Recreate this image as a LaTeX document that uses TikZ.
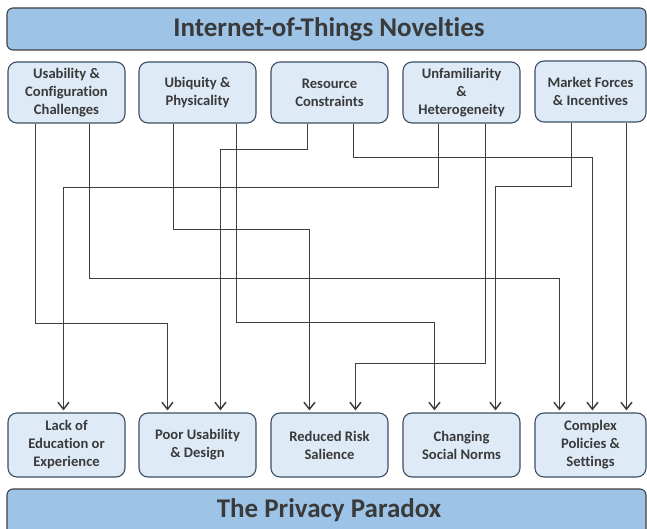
\documentclass[tikz,border=0pt]{standalone}
\usepackage{fontspec}
\setmainfont{Carlito}[Ligatures={NoCommon,NoContextual},RawFeature={-liga;-clig;-dlig;-calt}]
\usetikzlibrary{arrows.meta}
\definecolor{boxfill}{HTML}{DEEBF7}
\definecolor{boxline}{HTML}{3E4F66}
\definecolor{banfill}{HTML}{9DC3E6}
\definecolor{banline}{HTML}{3F3F3F}
\definecolor{txt}{HTML}{3A3A3A}
\definecolor{wire}{HTML}{3F3F3F}
\tikzset{
  box/.style={draw=boxline, fill=boxfill, line width=1.1pt, rounded corners=9pt,
    minimum width=117pt, minimum height=61pt, inner sep=0pt, align=center,
    text=txt, font=\bfseries\fontsize{14.6}{18}\selectfont},
  banner/.style={draw=banline, fill=banfill, line width=1.1pt, rounded corners=6pt,
    inner sep=0pt},
  bantext/.style={text=txt, font=\bfseries\fontsize{27}{30}\selectfont},
  conn/.style={draw=wire, line width=1.5pt, shorten >=2pt,
    -{Straight Barb[length=7pt,width=11pt,line width=1.5pt]}},
}
\begin{document}
\begin{tikzpicture}[x=1pt,y=-1pt]
\clip (0,0) rectangle (647,529);
\fill[white] (0,0) rectangle (647,529);
% banners
\node[banner, minimum width=639pt, minimum height=42pt] (top) at (326.5,29) {};
\node[bantext] (toptext) at (329,29) {Internet-of-Things Novelties};
\node[banner, minimum width=639pt, minimum height=56pt] (bot) at (326.5,517) {};
\node[bantext] (bottext) at (329,510) {The Privacy Paradox};
% top boxes
\node[box] (u1) at (66.5,92.5) {Usability \&\\Configuration\\Challenges};
\node[box] (u2) at (197.5,92.5) {Ubiquity \&\\Physicality};
\node[box] (u3) at (329.5,92.5) {Resource\\Constraints};
\node[box] (u4) at (461.5,92.5) {Unfamiliarity\\\&\\Heterogeneity};
\node[box, minimum width=111pt] (u5) at (590.5,91.5) {Market Forces\\\& Incentives};
% bottom boxes
\node[box, minimum height=64pt] (b1) at (66.5,445) {Lack of\\Education or\\Experience};
\node[box, minimum height=64pt] (b2) at (197.5,445) {Poor Usability\\\& Design};
\node[box, minimum height=64pt] (b3) at (329.5,445) {Reduced Risk\\Salience};
\node[box, minimum height=64pt] (b4) at (461.5,445) {Changing\\Social Norms};
\node[box, minimum height=64pt, minimum width=111pt] (b5) at (590.5,445) {Complex\\Policies \&\\Settings};
% connectors
\draw[conn] ([xshift=28pt]u1.south west) -- ++(0,200) -| ([xshift=29pt]b2.north west);
\draw[conn] ([xshift=82pt]u1.south west) -- ++(0,155) -| ([xshift=25pt]b5.north west);
\draw[conn] ([xshift=35pt]u2.south west) -- ++(0,106) -| ([xshift=39pt]b3.north west);
\draw[conn] ([xshift=98pt]u2.south west) -- ++(0,199) -| ([xshift=32pt]b4.north west);
\draw[conn] ([xshift=37pt]u3.south west) -- ++(0,26) -| ([xshift=82pt]b2.north west);
\draw[conn] ([xshift=83pt]u3.south west) -- ++(0,34) -| ([xshift=58pt]b5.north west);
\draw[conn] ([xshift=36pt]u4.south west) -- ++(0,64) -| ([xshift=56pt]b1.north west);
\draw[conn] ([xshift=83pt]u4.south west) -- ++(0,240) -| ([xshift=85pt]b3.north west);
\draw[conn] ([xshift=37pt]u5.south west) -- ++(0,64) -| ([xshift=93pt]b4.north west);
\draw[conn] ([xshift=92pt]u5.south west) -- ([xshift=92pt]b5.north west);
\end{tikzpicture}
\end{document}
